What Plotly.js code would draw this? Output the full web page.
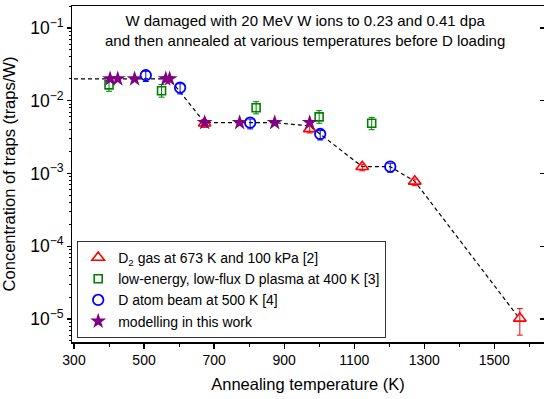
<!DOCTYPE html>
<html>
<head>
<meta charset="utf-8">
<script src="https://cdn.plot.ly/plotly-3.0.1.min.js"></script>
<style>html,body{margin:0;padding:0;background:#fff;}#chart{width:544px;height:399px;}</style>
</head>
<body>
<div id="chart"></div>
<script>
// Model dashed curve
const lineT = [300, 573, 673, 873, 973, 1123, 1203, 1273, 1573];
const lineC = [0.02, 0.02, 0.005, 0.005, 0.0045, 0.00124, 0.00124, 0.00078, 1.0e-5];

// D2 gas at 673 K and 100 kPa [2]
const gasT = [673, 973, 1123, 1273, 1573];
const gasC = [0.0049, 0.0041, 0.00124, 0.00078, 1.02e-5];
const gasErrPlus = [0.0003, 0.0003, 0.0001, 0.00006, 0.37e-5];
const gasErrMinus = [0.0006, 0.0005, 0.00015, 0.0001, 0.42e-5];

// low-energy, low-flux D plasma at 400 K [3]
const plasmaT = [400, 550, 820, 1000, 1150];
const plasmaC = [0.0165, 0.0137, 0.0080, 0.0060, 0.0049];
const plasmaErrPlus = [0.0035, 0.003, 0.0017, 0.0013, 0.001];
const plasmaErrMinus = [0.003, 0.0025, 0.0014, 0.0011, 0.0009];

// D atom beam at 500 K [4]
const beamT = [505, 603, 803, 1003, 1203];
const beamC = [0.0224, 0.0151, 0.0050, 0.00349, 0.00124];
const beamErrPlus = [0.003, 0.002, 0.0006, 0.0004, 0.00014];
const beamErrMinus = [0.004, 0.0027, 0.0009, 0.0006, 0.0002];

// modelling in this work
const modelT = [403, 425, 473, 562, 573, 673, 773, 873, 973];
const modelC = [0.02, 0.02, 0.02, 0.02, 0.02, 0.005, 0.005, 0.005, 0.005];

const xTickVals = [300, 500, 700, 900, 1100, 1300, 1500];
const legendNames = [
  'D<sub>2</sub> gas at 673 K and 100 kPa [2]',
  'low-energy, low-flux D plasma at 400 K [3]',
  'D atom beam at 500 K [4]',
  'modelling in this work'
];

const FONT = 'Arial, "Liberation Sans", sans-serif';

const traces = [
  {x: [300], y: [0.01], yaxis: 'y2', mode: 'markers', marker: {opacity: 0}, showlegend: false, hoverinfo: 'skip'},
  {x: lineT, y: lineC, mode: 'lines', showlegend: false, hoverinfo: 'skip',
   line: {color: '#000', width: 1.2, dash: '4px,3px'}},
  {x: gasT, y: gasC, mode: 'markers', name: legendNames[0],
   marker: {symbol: 'triangle-up-open', size: 11, color: '#ff0000', line: {width: 1.6, color: '#ff0000'}},
   error_y: {type: 'data', symmetric: false, array: gasErrPlus, arrayminus: gasErrMinus, color: '#ff0000', thickness: 1, width: 3}},
  {x: plasmaT, y: plasmaC, mode: 'markers', name: legendNames[1],
   marker: {symbol: 'square-open', size: 8, color: '#008000', line: {width: 1.6, color: '#008000'}},
   error_y: {type: 'data', symmetric: false, array: plasmaErrPlus, arrayminus: plasmaErrMinus, color: '#008000', thickness: 1, width: 3}},
  {x: beamT, y: beamC, mode: 'markers', name: legendNames[2],
   marker: {symbol: 'circle-open', size: 10.5, color: '#0000ff', line: {width: 1.8, color: '#0000ff'}},
   error_y: {type: 'data', symmetric: false, array: beamErrPlus, arrayminus: beamErrMinus, color: '#0000ff', thickness: 1, width: 3}},
  {x: modelT, y: modelC, mode: 'markers', name: legendNames[3],
   marker: {symbol: 'star', size: 12, color: '#800080', line: {width: 0}}}
];

const layout = {
  width: 544, height: 399,
  margin: {l: 72, r: 0, t: 6, b: 57},
  paper_bgcolor: '#fff', plot_bgcolor: '#fff',
  font: {family: FONT, color: '#000', size: 14},
  showlegend: true,
  legend: {x: 0.011, y: 0.012, xanchor: 'left', yanchor: 'bottom',
    bgcolor: '#fff', bordercolor: '#333', borderwidth: 1,
    font: {family: FONT, size: 14, color: '#000'}, tracegroupgap: 0},
  xaxis: {
    range: [294.3, 1642], tickmode: 'array', tickvals: xTickVals,
    ticks: 'outside', ticklen: 5, tickwidth: 1.2, tickcolor: '#000',
    showline: true, linecolor: '#000', linewidth: 1.5, mirror: true,
    showgrid: false, zeroline: false,
    tickfont: {family: FONT, size: 14, color: '#000'},
    minor: {dtick: 100, tick0: 300, ticks: 'outside', ticklen: 3, tickcolor: '#000', tickwidth: 1, showgrid: false},
    title: {text: 'Annealing temperature (K)', font: {family: FONT, size: 16.5, color: '#000'}, standoff: 11}
  },
  yaxis: {
    type: 'log', range: [-5.316, -0.698], dtick: 1, exponentformat: 'power',
    ticks: 'outside', ticklen: 4, tickwidth: 1.2, tickcolor: '#000',
    showline: true, linecolor: '#000', linewidth: 1.5, mirror: false,
    showgrid: false, zeroline: false,
    tickfont: {family: FONT, size: 14, color: '#000'},
    minor: {dtick: 'D1', ticks: 'outside', ticklen: 2, tickcolor: '#000', tickwidth: 1, showgrid: false},
    title: {text: 'Concentration of traps (traps/W)', font: {family: FONT, size: 16.5, color: '#000'}, standoff: 10}
  },
  yaxis2: {
    type: 'log', range: [-5.316, -0.698], dtick: 1, overlaying: 'y', side: 'right',
    ticks: 'inside', ticklen: 4, tickwidth: 1.2, tickcolor: '#000',
    showticklabels: false, showline: true, linecolor: '#000', linewidth: 1.5,
    showgrid: false, zeroline: false
  },
  annotations: [{
    xref: 'paper', yref: 'paper', x: 0.494, y: 0.988, xanchor: 'center', yanchor: 'top',
    showarrow: false, align: 'center',
    text: 'W damaged with 20 MeV W ions to 0.23 and 0.41 dpa<br>and then annealed at various temperatures before D loading',
    font: {family: FONT, size: 15, color: '#000'}
  }]
};

Plotly.newPlot('chart', traces, layout, {displayModeBar: false, staticPlot: true});
</script>
</body>
</html>
